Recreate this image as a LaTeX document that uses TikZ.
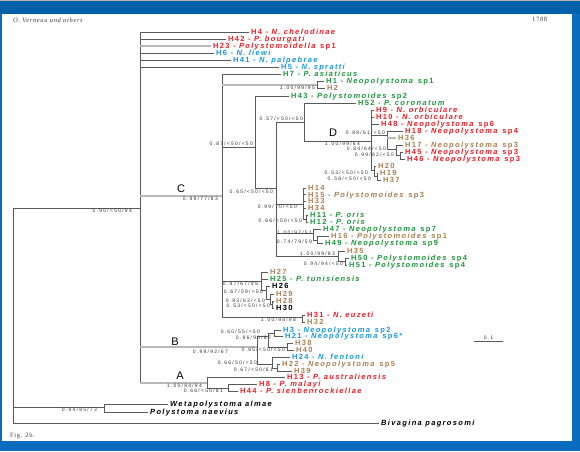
\documentclass[tikz,border=0pt]{standalone}
\usepackage{fontspec}
\setmainfont{Liberation Serif}
\newfontfamily\taxfam[LetterSpace=18]{Liberation Sans}
\newfontfamily\svfam[LetterSpace=25]{Liberation Sans}
\newfontfamily\bigfam{Liberation Sans}
\newfontfamily\hdfam[LetterSpace=10]{Liberation Serif}
\newcommand\taxfont{\taxfam\bfseries\fontsize{7.5}{8}\selectfont}
\newcommand\svfont{\svfam\fontsize{5}{5}\selectfont}
\definecolor{frameblue}{RGB}{10,108,190}
\definecolor{topblue}{RGB}{0,96,170}
\definecolor{tred}{RGB}{236,28,36}
\definecolor{tblue}{RGB}{24,150,220}
\definecolor{tgreen}{RGB}{30,150,60}
\definecolor{tbrown}{RGB}{168,128,80}
\definecolor{lgray}{RGB}{90,90,90}
\definecolor{lthick}{RGB}{185,185,185}
\tikzset{
  br/.style={draw=lgray,line width=0.55pt},
  brt/.style={draw=lthick,line width=1.3pt},
  tx/.style={anchor=west,inner xsep=2.5pt,inner ysep=0pt,font=\taxfont,text height=5.4pt,text depth=0pt},
  sv/.style={anchor=east,inner sep=0pt,font=\svfont,text=black!80,text height=3.6pt,text depth=0pt},
  big/.style={inner sep=0pt,font=\bigfam\fontsize{11}{11}\selectfont},
  hd/.style={anchor=west,inner sep=0pt,font=\hdfam\fontsize{6.5}{7}\selectfont,text=black!75}
}
\newcommand\edL[3][br]{\draw[#1] (#2 |- #3) -- (#3.west);}
\newcommand\edN[3][br]{\draw[#1] (#2 |- #3) -- (#3);}
\newcommand\tvs[3]{\draw[br] (#1 |- #2) -- (#1 |- #3);}
\begin{document}
\begin{tikzpicture}[x=1pt,y=-1pt]
\useasboundingbox (0,0) rectangle (580,451);
\fill[frameblue] (0,0) rectangle (580,451);
\fill[topblue] (0,0) rectangle (580,14);
\fill[black!30] (0,0) rectangle (580,1.2);
\fill[white] (2,14) rectangle (572,441);
% headers
\node[hd] (hdl) at (13,20) {\textit{O. Verneau and others}};
\node[hd] (hdr) at (532,19) {1788};
\node[hd] (fig) at (10,436) {Fig. 2b.};
% internal nodes
\coordinate (R) at (13,208);
\coordinate (ING) at (140,208);
\coordinate (C) at (222,196);
\coordinate (N12) at (317,85);
\coordinate (N255) at (255,147);
\coordinate (N276) at (276,188);
\coordinate (N304) at (304,122);
\coordinate (ND) at (371,141);
\coordinate (Nx) at (387,135);
\coordinate (Nb) at (396,149);
\coordinate (Nc) at (400,155);
\coordinate (Nd) at (374,170);
\coordinate (Ne) at (377,176);
\coordinate (N303) at (303,204);
\coordinate (N306) at (306,219);
\coordinate (N313) at (313,233);
\coordinate (N317) at (317,240);
\coordinate (N338) at (338,256);
\coordinate (N345) at (345,261);
\coordinate (N261) at (261,281);
\coordinate (Nf) at (266,290);
\coordinate (Ng) at (270,299);
\coordinate (Nh) at (272,304);
\coordinate (N302) at (302,317);
\coordinate (NB) at (257,347);
\coordinate (N268) at (268,336);
\coordinate (N274) at (274,333);
\coordinate (N287) at (287,347);
\coordinate (N272) at (272,364);
\coordinate (N277) at (277,368);
\coordinate (NA) at (207,383);
\coordinate (NA2) at (228,388);
\coordinate (WP) at (104,407);
% leaves
\node[tx,text=tred] (h4) at (248.5,32) {H4 - \textit{N. chelodinae}};
\node[tx,text=tred] (h42) at (225.5,39) {H42 - \textit{P. bourgati}};
\node[tx,text=tred] (h23) at (210.5,46) {H23 - \textit{Polystomoidella} sp1};
\node[tx,text=tblue] (h6) at (213.5,53) {H6 - \textit{N. liewi}};
\node[tx,text=tblue] (h41) at (230.5,60) {H41 - \textit{N. palpebrae}};
\node[tx,text=tblue] (h5) at (278.5,67) {H5 - \textit{N. spratti}};
\node[tx,text=tgreen] (h7) at (280.5,74) {H7 - \textit{P. asiaticus}};
\node[tx,text=tgreen] (h1) at (323.5,81) {H1 - \textit{Neopolystoma} sp1};
\node[tx,text=tbrown] (h2) at (324.5,88) {H2};
\node[tx,text=tgreen] (h43) at (288.5,96) {H43 - \textit{Polystomoides} sp2};
\node[tx,text=tgreen] (h52) at (355.5,103) {H52 - \textit{P. coronatum}};
\node[tx,text=tred] (h9) at (373.5,110) {H9 - \textit{N. orbiculare}};
\node[tx,text=tred] (h10) at (373.5,117) {H10 - \textit{N. orbiculare}};
\node[tx,text=tred] (h48) at (378.5,124) {H48 - \textit{Neopolystoma} sp6};
\node[tx,text=tred] (h18) at (402.5,131) {H18 - \textit{Neopolystoma} sp4};
\node[tx,text=tbrown] (h36) at (395.5,138) {H36};
\node[tx,text=tbrown] (h17) at (402.5,145) {H17 - \textit{Neopolystoma} sp3};
\node[tx,text=tred] (h45) at (402.5,152) {H45 - \textit{Neopolystoma} sp3};
\node[tx,text=tred] (h46) at (404.5,159) {H46 - \textit{Neopolystoma} sp3};
\node[tx,text=tbrown] (h20) at (375.5,166) {H20};
\node[tx,text=tbrown] (h19) at (377.5,173) {H19};
\node[tx,text=tbrown] (h37) at (380.5,180) {H37};
\node[tx,text=tbrown] (h14) at (305.5,188) {H14};
\node[tx,text=tbrown] (h15) at (305.5,194.5) {H15 - \textit{Polystomoides} sp3};
\node[tx,text=tbrown] (h33) at (305.5,201) {H33};
\node[tx,text=tbrown] (h34) at (305.5,208) {H34};
\node[tx,text=tgreen] (h11) at (307.5,215) {H11 - \textit{P. oris}};
\node[tx,text=tgreen] (h12) at (307.5,222) {H12 - \textit{P. oris}};
\node[tx,text=tgreen] (h47) at (320.5,229) {H47 - \textit{Neopolystoma} sp7};
\node[tx,text=tbrown] (h16) at (328.5,236) {H16 - \textit{Polystomoides} sp1};
\node[tx,text=tgreen] (h49) at (322.5,243) {H49 - \textit{Neopolystoma} sp9};
\node[tx,text=tbrown] (h35) at (344.5,251) {H35};
\node[tx,text=tgreen] (h50) at (348.5,258) {H50 - \textit{Polystomoides} sp4};
\node[tx,text=tgreen] (h51) at (346.5,265) {H51 - \textit{Polystomoides} sp4};
\node[tx,text=tbrown] (h27) at (267.5,272) {H27};
\node[tx,text=tgreen] (h25) at (267.5,279) {H25 - \textit{P. tunisiensis}};
\node[tx,text=black] (h26) at (269.5,286) {H26};
\node[tx,text=tbrown] (h29) at (273.5,294) {H29};
\node[tx,text=tbrown] (h28) at (273.5,301) {H28};
\node[tx,text=black] (h30) at (273.5,308) {H30};
\node[tx,text=tred] (h31) at (304.5,315) {H31 - \textit{N. euzeti}};
\node[tx,text=tbrown] (h32) at (304.5,322) {H32};
\node[tx,text=tblue] (h3) at (280.5,330) {H3 - \textit{Neopolystoma} sp2};
\node[tx,text=tblue] (h21) at (282.5,336) {H21 - \textit{Neopolystoma} sp6*};
\node[tx,text=tbrown] (h38) at (292.5,343) {H38};
\node[tx,text=tbrown] (h40) at (293.5,350) {H40};
\node[tx,text=tblue] (h24) at (289.5,357) {H24 - \textit{N. fentoni}};
\node[tx,text=tbrown] (h22) at (279.5,364) {H22 - \textit{Neopolystoma} sp5};
\node[tx,text=tbrown] (h39) at (291.5,371) {H39};
\node[tx,text=tred] (h13) at (284.5,377) {H13 - \textit{P. australiensis}};
\node[tx,text=tred] (h8) at (256.5,384) {H8 - \textit{P. malayi}};
\node[tx,text=tred] (h44) at (237.5,391) {H44 - \textit{P. sienbenrockiellae}};
\node[tx,text=black] (weta) at (167.5,404) {\textit{Wetapolystoma almae}};
\node[tx,text=black] (pnae) at (147.5,412) {\textit{Polystoma naevius}};
\node[tx,text=black] (biva) at (378.5,423) {\textit{Bivagina pagrosomi}};
% branches
\tvs{R}{ING}{biva} \edN{R}{ING} \edN{R}{WP} \edL{R}{biva}
\tvs{ING}{h4}{NA}
\edL{ING}{h4} \edL{ING}{h42} \edL[brt]{ING}{h23} \edL{ING}{h6} \edL{ING}{h41} \edL{ING}{h5}
\edN[brt]{ING}{C} \edN[brt]{ING}{NB} \edN[brt]{ING}{NA}
\tvs{C}{h7}{N302} \edL{C}{h7} \edN[brt]{C}{N12} \edN{C}{N255} \edN{C}{N261} \edN{C}{N302}
\tvs{N12}{h1}{h2} \edL{N12}{h1} \edL{N12}{h2}
\tvs{N255}{h43}{N276} \edL{N255}{h43} \edN{N255}{N276}
\tvs{N276}{N304}{N338} \edN{N276}{N304} \edN{N276}{N303} \edN{N276}{N313} \edN{N276}{N338}
\tvs{N304}{h52}{ND} \edL{N304}{h52} \edN{N304}{ND}
\tvs{ND}{h9}{Nd} \edL{ND}{h9} \edL{ND}{h10} \edL{ND}{h48} \edN{ND}{Nx} \edN{ND}{Nd}
\tvs{Nx}{h18}{Nb} \edL{Nx}{h18} \edL[brt]{Nx}{h36} \edN{Nx}{Nb}
\tvs{Nb}{h17}{Nc} \edL{Nb}{h17} \edN{Nb}{Nc}
\tvs{Nc}{h45}{h46} \edL{Nc}{h45} \edL{Nc}{h46}
\tvs{Nd}{h20}{Ne} \edL{Nd}{h20} \edN{Nd}{Ne}
\tvs{Ne}{h19}{h37} \edL{Ne}{h19} \edL{Ne}{h37}
\tvs{N303}{h14}{N306} \edL{N303}{h14} \edL{N303}{h15} \edL{N303}{h33} \edL{N303}{h34} \edN{N303}{N306}
\tvs{N306}{h11}{h12} \edL{N306}{h11} \edL{N306}{h12}
\tvs{N313}{h47}{N317} \edL{N313}{h47} \edN{N313}{N317}
\tvs{N317}{h16}{h49} \edL{N317}{h16} \edL{N317}{h49}
\tvs{N338}{h35}{N345} \edL{N338}{h35} \edN{N338}{N345}
\tvs{N345}{h50}{h51} \edL{N345}{h50} \edL{N345}{h51}
\tvs{N261}{h27}{Nf} \edL{N261}{h27} \edL{N261}{h25} \edN{N261}{Nf}
\tvs{Nf}{h26}{Ng} \edL{Nf}{h26} \edN{Nf}{Ng}
\tvs{Ng}{h29}{Nh} \edL{Ng}{h29} \edN{Ng}{Nh}
\tvs{Nh}{h28}{h30} \edL{Nh}{h28} \edL{Nh}{h30}
\tvs{N302}{h31}{h32} \edL{N302}{h31} \edL{N302}{h32}
\tvs{NB}{N268}{N272} \edN{NB}{N268} \edN{NB}{N272}
\tvs{N268}{N274}{N287} \edN{N268}{N274} \edN{N268}{N287}
\tvs{N274}{h3}{h21} \edL{N274}{h3} \edL{N274}{h21}
\tvs{N287}{h38}{h40} \edL{N287}{h38} \edL{N287}{h40}
\tvs{N272}{h24}{N277} \edL{N272}{h24} \edN{N272}{N277}
\tvs{N277}{h22}{h39} \edL{N277}{h22} \edL{N277}{h39}
\tvs{NA}{h13}{NA2} \edL{NA}{h13} \edN{NA}{NA2}
\tvs{NA2}{h8}{h44} \edL{NA2}{h8} \edL{NA2}{h44}
\tvs{WP}{weta}{pnae} \edL{WP}{weta} \edL{WP}{pnae}
% support values
\node[sv] (s1) at (132,211) {0.90/<50/94};
\node[sv] (s2) at (97,410) {0.94/85/73};
\node[sv] (s3) at (218,199) {0.99/77/83};
\node[sv] (s4) at (315,87.5) {1.00/99/95};
\node[sv] (s5) at (253,144) {0.87/<50/<50};
\node[sv] (s6) at (273,192) {0.65/<50/<50};
\node[sv] (s7) at (303,119) {0.57/<50/<50};
\node[sv] (s8) at (360,143.5) {1.00/99/64};
\node[sv] (s9) at (385,132.5) {0.88/61/<50};
\node[sv] (s10) at (386,148.5) {0.84/64/<50};
\node[sv] (s11) at (394,154.5) {0.99/82/<50};
\node[sv] (s12) at (368,173) {0.53/<50/<50};
\node[sv] (s13) at (371,179) {0.58/<50/<50};
\node[sv] (s14) at (297,207) {0.99/70/<50};
\node[sv] (s15) at (302,221) {0.66/<50/<50};
\node[sv] (s16) at (312,233) {1.00/97/51};
\node[sv] (s17) at (312,242) {0.74/79/59};
\node[sv] (s18) at (335,253.5) {1.00/99/83};
\node[sv] (s19) at (343,264) {0.94/94/<50};
\node[sv] (s20) at (258,284) {0.97/67/99};
\node[sv] (s21) at (263,292) {0.67/59/<50};
\node[sv] (s22) at (265,300.5) {0.93/63/<50};
\node[sv] (s23) at (270,306) {0.53/<50/<50};
\node[sv] (s24) at (296,320) {1.00/98/98};
\node[sv] (s25) at (228,352) {0.99/92/67};
\node[sv] (s26) at (260,332) {0.60/55/<50};
\node[sv] (s27) at (271,337.5) {0.96/90/67};
\node[sv] (s28) at (285,349.5) {0.85/<50/<50};
\node[sv] (s29) at (257,363) {0.66/50/<50};
\node[sv] (s30) at (273,370) {0.67/<50/61};
\node[sv] (s31) at (202,386) {1.00/84/94};
\node[sv] (s32) at (223,391) {0.66/<50/81};
% clade letters
\node[big] (lC) at (181,189) {C};
\node[big] (lD) at (333,133) {D};
\node[big] (lB) at (175,342) {B};
\node[big] (lA) at (180,376) {A};
% scale bar
\coordinate (sbl) at (474,341);
\coordinate (sbr) at (503,341);
\draw[br] (sbl) -- (sbr);
\node[sv,anchor=south] (sbt) at (488.5,339.5) {0.1};
\end{tikzpicture}
\end{document}
